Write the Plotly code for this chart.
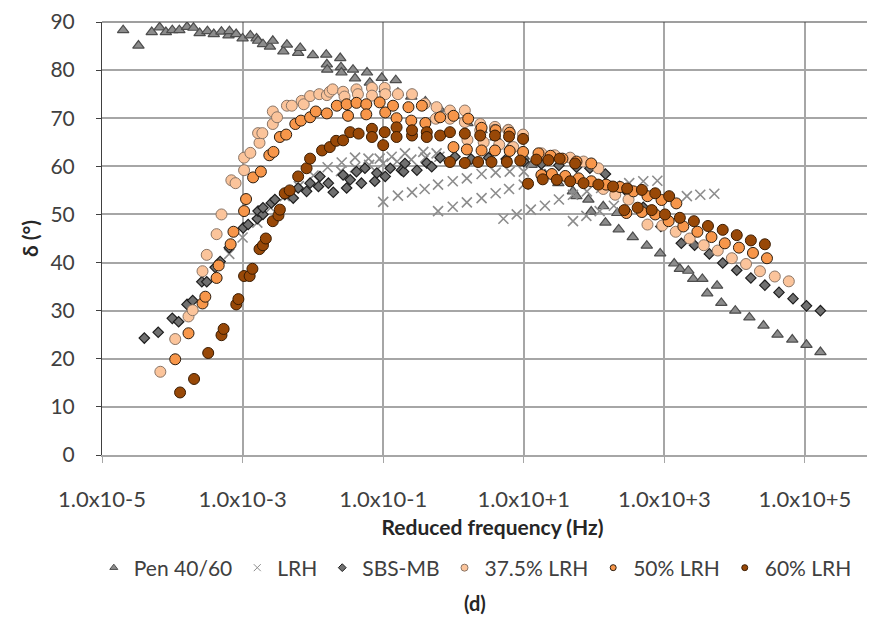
import plotly.graph_objects as go

# ---------------- data (frequency in Hz, phase angle in degrees) ----------------
pen_freq = [2.0e-5, 3.3e-5, 5.1e-5, 6.6e-5, 8.1e-5, 1.0e-4, 1.26e-4, 1.62e-4, 2.0e-4, 2.45e-4,
            3.16e-4, 3.89e-4, 5.0e-4, 6.3e-4, 6.5e-4, 8.1e-4, 1.0e-3, 1.29e-3, 1.58e-3, 1.66e-3,
            1.95e-3, 2.45e-3, 2.69e-3, 3.8e-3, 4.27e-3, 6.17e-3, 6.61e-3, 1.0e-2, 1.55e-2, 1.58e-2,
            1.6e-2, 2.45e-2, 2.51e-2, 2.55e-2, 3.72e-2, 3.98e-2, 5.89e-2, 6.46e-2, 9.55e-2, 0.105,
            0.151, 0.162, 0.251, 0.398, 0.631, 1.0, 1.58, 2.51, 3.98, 6.31,
            10.0, 12.9, 20.0, 31.0, 50.0, 56.0, 83.0, 91.0, 135, 145,
            214, 224, 355, 562, 871, 1380, 1660, 2190, 2570, 3470,
            4070, 5620, 6460, 1.02e4, 1.62e4, 2.57e4, 4.07e4, 6.6e4, 1.05e5, 1.66e5]
pen_delta = [88.3, 85.1, 87.9, 88.9, 87.9, 88.3, 88.3, 89.0, 88.8, 87.7,
             88.1, 87.5, 88.0, 87.2, 88.1, 87.5, 86.6, 87.2, 86.6, 86.1,
             85.4, 84.9, 86.1, 83.9, 85.3, 83.6, 84.6, 83.1, 83.2, 81.2,
             80.1, 82.5, 80.6, 79.5, 80.1, 78.3, 79.5, 77.4, 78.4, 76.0,
             77.9, 75.3, 74.5, 73.5, 72.0, 70.5, 69.0, 67.5, 66.0, 64.0,
             62.0, 60.3, 58.3, 56.5, 54.8, 53.8, 53.1, 50.6, 51.7, 48.3,
             50.3, 46.9, 45.3, 43.5, 41.9, 39.8, 38.7, 38.3, 36.6, 36.6,
             33.6, 35.2, 31.6, 30.0, 28.6, 26.9, 25.0, 24.0, 22.9, 21.4]

lrh_freq = [6.46e-4, 1.0e-3, 1.62e-3, 2.51e-3, 3.98e-3, 6.31e-3, 1.02e-2, 1.62e-2, 2.57e-2, 3.98e-2,
            6.17e-2, 8.91e-2, 0.132, 0.204, 0.372, 0.575,
            2.51e-2, 3.98e-2, 6.31e-2, 0.1, 0.158, 0.251, 0.398, 0.631,
            0.1, 0.162, 0.257, 0.389, 0.603, 0.977, 1.55, 2.51, 3.98, 6.31, 10.0,
            0.603, 0.977, 1.55, 2.51, 3.98, 6.17, 10.0,
            5.13, 7.94, 12.6, 20.0, 31.6, 50.1, 79.0, 126, 200, 316, 501, 794,
            50.1, 77.6, 120, 191,
            2090, 3240, 5130]
lrh_delta = [41.8, 45.2, 48.3, 51.4, 53.8, 55.9, 58.1, 59.8, 60.8, 61.8,
             61.6, 61.6, 62.0, 62.7, 63.0, 62.7,
             59.0, 59.8, 60.3, 60.6, 61.0, 61.4, 61.8, 62.0,
             52.6, 53.9, 54.6, 55.3, 56.2, 56.9, 57.5, 58.4, 58.7, 58.9, 58.9,
             50.7, 51.6, 52.5, 53.4, 54.4, 55.3, 56.2,
             49.1, 50.0, 51.0, 51.8, 53.1, 54.1, 54.8, 55.5, 56.0, 56.5, 56.9, 57.0,
             48.6, 49.7, 50.7, 51.8,
             53.8, 54.1, 54.3]

sbs_freq = [4.0e-5, 6.3e-5, 1.0e-4, 1.23e-4, 1.62e-4, 1.95e-4, 2.63e-4, 3.09e-4, 4.07e-4, 4.79e-4,
            6.46e-4, 1.02e-3, 1.2e-3, 1.62e-3, 1.66e-3, 1.95e-3, 1.95e-3, 2.57e-3, 2.88e-3, 3.98e-3,
            4.68e-3, 5.25e-3, 6.17e-3, 8.13e-3, 9.12e-3, 1.2e-2, 1.26e-2, 1.66e-2, 1.95e-2, 2.69e-2,
            3.02e-2, 3.39e-2, 4.17e-2, 4.9e-2, 5.5e-2, 7.59e-2, 8.13e-2, 0.107, 0.126, 0.182,
            0.195, 0.204, 0.302, 0.417, 0.49, 0.646, 1.05, 1.78, 3.16, 5.62,
            10.0, 17.8, 31.6, 56.2, 87.1, 145, 282, 501, 891, 1740,
            2690, 4370, 6760, 1.07e4, 1.7e4, 2.69e4, 4.27e4, 6.76e4, 1.05e5, 1.66e5]
sbs_delta = [24.3, 25.5, 28.4, 27.7, 31.3, 32.1, 36.0, 36.0, 39.0, 40.2,
             43.1, 47.2, 47.9, 49.1, 50.7, 50.0, 51.4, 52.4, 53.1, 54.1,
             54.8, 53.4, 55.5, 54.8, 56.5, 55.8, 57.9, 56.5, 54.6, 58.2,
             55.5, 57.2, 58.9, 56.5, 59.6, 56.9, 58.6, 57.9, 59.6, 59.2,
             58.9, 60.6, 59.2, 60.7, 59.9, 61.8, 62.0, 61.5, 61.8, 61.5,
             61.0, 60.5, 60.2, 59.8, 59.6, 58.4, 55.0, 51.5, 47.5, 44.0,
             43.6, 41.8, 39.9, 38.4, 36.8, 35.3, 33.8, 32.5, 31.0, 30.0]

l375_freq = [6.76e-5, 1.1e-4, 1.7e-4, 1.95e-4, 2.69e-4, 3.09e-4, 4.27e-4, 5.01e-4, 6.92e-4, 7.94e-4,
             1.05e-3, 1.05e-3, 1.29e-3, 1.74e-3, 1.66e-3, 1.91e-3, 2.69e-3, 2.69e-3, 3.09e-3, 4.27e-3,
             5.01e-3, 6.92e-3, 7.41e-3, 9.12e-3, 1.23e-2, 1.58e-2, 1.74e-2, 1.91e-2, 2.69e-2, 2.82e-2,
             4.17e-2, 4.37e-2, 6.92e-2, 6.92e-2, 0.105, 0.107, 0.162, 0.257, 0.389, 0.575,
             0.891, 1.45, 2.4, 3.89, 6.03, 9.77,
             0.562, 0.891, 1.45, 2.4, 3.89, 6.03,
             1.58, 2.69, 4.47, 7.08,
             17.8, 27.5, 45.7, 70.8, 115, 135, 200, 309,
             575, 933, 1450, 2290, 3630, 5750, 9120, 1.45e4, 2.29e4, 3.72e4, 5.89e4]
l375_delta = [17.3, 24.1, 28.8, 30.1, 38.2, 41.6, 45.9, 50.0, 57.1, 56.5,
              59.2, 61.8, 62.8, 64.9, 66.9, 66.9, 68.8, 71.4, 70.2, 72.6,
              72.6, 73.6, 72.9, 74.6, 75.0, 74.8, 75.5, 76.0, 75.5, 74.5,
              76.0, 75.0, 76.3, 74.7, 76.3, 75.0, 75.0, 75.0, 73.0, 72.3,
              71.6, 71.6, 68.8, 68.2, 67.6, 66.6,
              69.9, 69.9, 69.2, 67.5, 67.6, 67.5,
              65.5, 65.0, 64.5, 64.0,
              62.7, 62.3, 61.8, 61.0, 59.6, 55.3, 54.1, 53.1,
              47.9, 47.7, 46.4, 45.0, 43.6, 42.5, 40.9, 39.7, 38.2, 37.1, 36.1]

l50_freq = [1.1e-4, 1.7e-4, 2.69e-4, 2.95e-4, 4.27e-4, 4.57e-4, 6.76e-4, 7.41e-4, 1.05e-3, 1.12e-3,
            1.41e-3, 1.82e-3, 2.4e-3, 2.75e-3, 3.39e-3, 4.17e-3, 5.62e-3, 6.76e-3, 9.12e-3, 1.1e-2,
            1.58e-2, 2.19e-2, 3.02e-2, 3.16e-2, 4.17e-2, 5.75e-2, 5.75e-2, 8.91e-2, 0.107, 0.138,
            0.155, 0.229, 0.251, 0.355, 0.398, 0.646, 1.0, 1.62, 2.51, 3.98, 6.31,
            1.0, 1.55, 2.51, 3.89, 6.31, 9.77, 16.2, 24.0, 35.5, 56.2, 91.2,
            17.8, 25.1, 38.9, 60.3, 91.2, 148, 234, 363, 575, 912, 1480,
            288, 479, 741, 1150, 1860, 2950, 4680, 7240, 1.15e4, 1.82e4, 2.88e4]
l50_delta = [19.9, 25.3, 31.5, 32.9, 36.8, 39.4, 43.8, 46.4, 50.7, 53.2,
             57.7, 58.9, 62.3, 63.0, 66.1, 66.6, 68.8, 69.5, 70.2, 71.4,
             71.0, 72.6, 72.9, 70.5, 73.2, 72.9, 70.8, 73.3, 71.2, 72.6,
             70.0, 72.3, 69.5, 72.6, 69.0, 70.2, 70.5, 69.9, 68.0, 67.5, 67.0,
             64.0, 63.5, 63.3, 63.3, 63.2, 63.0, 62.7, 62.2, 61.6, 61.0, 60.6,
             58.2, 58.4, 58.0, 57.5, 56.9, 56.2, 55.7, 54.8, 53.8, 53.0, 52.3,
             50.3, 50.5, 50.0, 48.6, 47.5, 46.4, 45.3, 44.0, 43.1, 42.0, 40.9]

l60_freq = [1.29e-4, 2.04e-4, 3.24e-4, 5.01e-4, 5.37e-4, 8.13e-4, 8.71e-4, 1.05e-3, 1.26e-3, 1.38e-3,
            1.74e-3, 1.95e-3, 2.14e-3, 2.69e-3, 3.24e-3, 3.39e-3, 3.98e-3, 4.68e-3, 6.17e-3, 8.13e-3,
            9.12e-3, 1.35e-2, 1.74e-2, 2.14e-2, 2.69e-2, 3.39e-2, 4.47e-2, 6.92e-2, 6.92e-2, 0.1,
            0.105, 0.155, 0.155, 0.257, 0.257, 0.417, 0.417, 0.646, 0.891, 1.45,
            2.4, 3.89, 6.17, 9.77,
            0.891, 1.45, 2.24, 3.47, 5.75, 8.91,
            15.1, 22.4, 32.4, 53.7,
            11.5, 18.6, 29.5, 45.7, 70.8, 115, 186, 295, 479, 741, 1170,
            269, 417, 661, 1020, 1660, 2630, 4170, 6760, 1.07e4, 1.7e4, 2.69e4]
l60_delta = [13.0, 15.8, 21.2, 24.9, 26.2, 31.3, 32.4, 37.2, 37.2, 38.7,
             42.8, 43.6, 45.0, 48.6, 49.8, 51.0, 54.4, 55.0, 57.9, 59.6,
             61.6, 63.3, 64.0, 65.3, 65.4, 67.1, 66.8, 67.8, 66.1, 64.4,
             67.1, 68.1, 66.1, 66.4, 67.5, 67.1, 66.1, 66.4, 67.1, 66.8,
             66.4, 66.4, 66.2, 65.7,
             60.9, 60.7, 60.9, 60.9, 60.9, 61.2,
             61.4, 61.3, 61.6, 60.6,
             56.4, 57.3, 57.2, 56.9, 56.5, 56.2, 55.8, 55.4, 55.1, 54.4, 53.8,
             50.9, 51.4, 50.9, 50.0, 49.3, 48.6, 47.6, 46.8, 45.7, 44.6, 43.8]

series_names = ["Pen 40/60", "LRH", "SBS-MB", "37.5% LRH", "50% LRH", "60% LRH"]
x_tick_vals = [1e-5, 1e-3, 1e-1, 1e1, 1e3, 1e5]
x_tick_text = ["1.0x10-5", "1.0x10-3", "1.0x10-1", "1.0x10+1", "1.0x10+3", "1.0x10+5"]

# ---------------- styles ----------------
styles = [
    dict(symbol="triangle-up", size=10, color="#8c8c8c", line=dict(color="#4d4d4d", width=1.2)),
    dict(symbol="x-thin", size=10, color="#8c8c8c", line=dict(color="#8c8c8c", width=1.6)),
    dict(symbol="diamond", size=8, color="#707070", line=dict(color="#1e1e1e", width=1.2)),
    dict(symbol="circle", size=11, color="#fbc49b", line=dict(color="#8a7566", width=1)),
    dict(symbol="circle", size=11, color="#f7964a", line=dict(color="#2b1d10", width=1)),
    dict(symbol="circle", size=11, color="#984807", line=dict(color="#3a1c02", width=1)),
]
legend_sizes = [7, 7, 6, 7, 6, 6]

data_x = [pen_freq, lrh_freq, sbs_freq, l375_freq, l50_freq, l60_freq]
data_y = [pen_delta, lrh_delta, sbs_delta, l375_delta, l50_delta, l60_delta]

FONT = "Lato, 'Open Sans', sans-serif"

fig = go.Figure()
for name, xs, ys, st in zip(series_names, data_x, data_y, styles):
    fig.add_trace(go.Scatter(x=xs, y=ys, mode="markers", name=name, showlegend=False,
                             marker=dict(symbol=st["symbol"], size=st["size"], color=st["color"],
                                         line=st["line"])))
# legend-only entries with small markers
for name, st, ls in zip(series_names, styles, legend_sizes):
    fig.add_trace(go.Scatter(x=[None], y=[None], mode="markers", name=name, showlegend=True,
                             marker=dict(symbol=st["symbol"], size=ls, color=st["color"],
                                         line=dict(color=st["line"]["color"], width=1))))

# the page body has an 8px default margin; margins compensate for it
fig.update_layout(
    width=875, height=620,
    margin=dict(l=94, r=0, t=14, b=173, autoexpand=False),
    paper_bgcolor="white", plot_bgcolor="white",
    font=dict(family=FONT, color="#404040"),
    showlegend=True,
    legend=dict(orientation="h", x=0.478, xanchor="center", y=-0.261, yanchor="middle",
                font=dict(size=21, color="#404040"), itemwidth=30, bgcolor="rgba(0,0,0,0)"),
    xaxis=dict(type="log", range=[-5, 6.11], tickvals=x_tick_vals, ticktext=x_tick_text,
               showgrid=True, gridcolor="#a6a6a6", gridwidth=1.5,
               showline=True, linecolor="#a6a6a6", linewidth=1.5,
               ticks="outside", ticklen=6, tickcolor="#a6a6a6", tickwidth=1,
               tickfont=dict(size=22, color="#404040"), ticklabelstandoff=18,
               ticklabeloverflow="allow",
               zeroline=False,
               title=dict(text="<b>Reduced frequency (Hz)</b>", font=dict(size=21, color="#262626"),
                          standoff=9)),
    yaxis=dict(range=[0, 90], dtick=10, tick0=0,
               showgrid=True, gridcolor="#a6a6a6", gridwidth=1.5,
               showline=True, linecolor="#404040", linewidth=1,
               ticks="outside", ticklen=5, tickcolor="#404040",
               tickfont=dict(size=21, color="#404040"), ticklabelstandoff=17,
               ticklabeloverflow="allow",
               zeroline=False,
               title=dict(text="<b>δ (°)</b>", font=dict(size=21, color="#262626"), standoff=6)),
    shapes=[dict(type="line", xref="paper", yref="paper", x0=0, x1=1, y0=1, y1=1,
                 line=dict(color="#404040", width=1.2))],
    annotations=[dict(text="<b>(d)</b>", xref="paper", yref="paper", x=0.478, y=-0.342,
                      xanchor="center", yanchor="middle", showarrow=False,
                      font=dict(size=20, color="#262626"))],
)

fig.write_html("out.html")
